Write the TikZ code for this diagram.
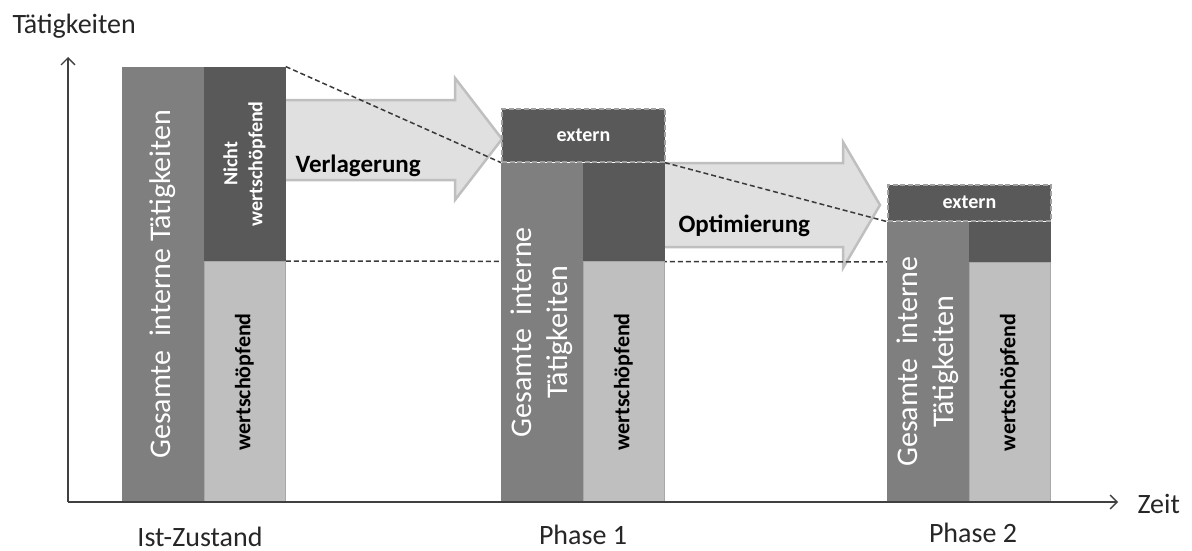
\documentclass[tikz,border=0pt]{standalone}
\usepackage{fontspec}
\setmainfont{Carlito}
\usepackage{graphicx}
\usetikzlibrary{arrows.meta,backgrounds}

\definecolor{interngray}{HTML}{7F7F7F}
\definecolor{nwsgray}{HTML}{595959}
\definecolor{wsgray}{HTML}{BFBFBF}
\definecolor{wsline}{HTML}{A8A8A8}
\definecolor{extline}{HTML}{A0A0A0}
\definecolor{arrowfill}{HTML}{E0E0E0}
\definecolor{arrowline}{HTML}{BFBFBF}
\definecolor{guidegray}{HTML}{3A3A3A}
\definecolor{axisgray}{HTML}{404040}

\newcommand{\vtext}[1]{\rotatebox{90}{\begin{tabular}{@{}c@{}}#1\end{tabular}}}

\tikzset{
  barcol/.style = {rectangle, inner sep=0pt, minimum width=81.5pt},
  intern/.style = {barcol, fill=interngray, text=white, anchor=south west,
    font=\fontsize{30}{36}\selectfont},
  nws/.style = {barcol, fill=nwsgray, text=white, anchor=north west,
    font=\bfseries\fontsize{20}{25}\selectfont},
  ws/.style = {barcol, fill=wsgray, draw=wsline, line width=0.8pt, anchor=north west,
    font=\bfseries\fontsize{22}{26}\selectfont},
  extern/.style = {rectangle, inner sep=0pt, minimum width=163pt, fill=nwsgray,
    draw=extline, line width=2pt, dash pattern=on 5pt off 2.5pt, text=white,
    anchor=south west, font=\bfseries\fontsize{20}{24}\selectfont},
  movearrow/.style = {fill=arrowfill, draw=arrowline, line width=2.5pt},
  movetext/.style = {anchor=base west, font=\bfseries\fontsize{25}{30}\selectfont},
  guide/.style = {draw=guidegray, line width=1.5pt, dash pattern=on 5pt off 3pt},
  axisline/.style = {draw=axisgray, line width=1.3pt, -{Straight Barb[length=7pt,width=14pt]}},
  caption/.style = {anchor=base, text=black!85, font=\fontsize{28}{33}\selectfont}
}

\begin{document}
\begin{tikzpicture}[x=1pt,y=-1pt]
  \useasboundingbox (0,0) rectangle (1192,551);
  \coordinate (o) at (68,502);
  \coordinate (ytip) at (68,57);
  \coordinate (xtip) at (1118,502);

  % Ist-Zustand
  \node[intern, minimum height=435pt] (ist) at (122,502) {\vtext{Gesamte~ interne Tätigkeiten}};
  \node[nws, minimum height=194pt] (istnws) at (ist.north east) {\vtext{Nicht\\wertschöpfend}};
  \node[ws, minimum height=241pt] (istws) at (istnws.south west) {\vtext{wertschöpfend}};

  % Phase 1
  \node[intern, minimum height=339pt] (p1) at (501,502) {\vtext{Gesamte~ interne\\Tätigkeiten}};
  \node[nws, minimum height=98pt] (p1nws) at (p1.north east) {};
  \node[ws, minimum height=241pt] (p1ws) at (p1nws.south west) {\vtext{wertschöpfend}};
  \node[extern, minimum height=53pt] (p1ext) at (p1.north west) {extern};

  % Phase 2
  \node[intern, minimum height=280pt] (p2) at (887,502) {\vtext{Gesamte~ interne\\Tätigkeiten}};
  \node[nws, minimum height=40pt] (p2nws) at (p2.north east) {};
  \node[ws, minimum height=240pt] (p2ws) at (p2nws.south west) {\vtext{wertschöpfend}};
  \node[extern, minimum height=36pt] (p2ext) at (p2.north west) {extern};

  \begin{scope}[on background layer]
    % arrows
    \draw[movearrow] (280,100) -- (455,100) -- (455,78) -- (502,139)
      -- (455,200) -- (455,180) -- (280,180) -- cycle;
    \draw[movearrow] (660,163) -- (843,163) -- (843,142) -- (880,205)
      -- (843,268) -- (843,247) -- (660,247) -- cycle;
    % guides
    \draw[guide] (istnws.north east) -- (p1.north west);
    \draw[guide] (p1nws.north east) -- (p2.north west);
    \draw[guide] (istnws.south east) -- (p2nws.south west);
  \end{scope}

  \node[movetext] (verl) at (292,172) {Verlagerung};
  \node[movetext] (opt) at (675,232) {Optimierung};

  % axes
  \draw[axisline] (o) -- (ytip);
  \draw[axisline] (o) -- (xtip);
  \node[caption, anchor=base west] (taet) at (9,34) {Tätigkeiten};
  \node[caption, anchor=base west] (zeit) at (1134,513) {Zeit};

  \node[caption] (istlbl) at (200,546) {Ist-Zustand};
  \node[caption] (p1lbl) at (583,544) {Phase 1};
  \node[caption] (p2lbl) at (973,542) {Phase 2};
\end{tikzpicture}
\end{document}
